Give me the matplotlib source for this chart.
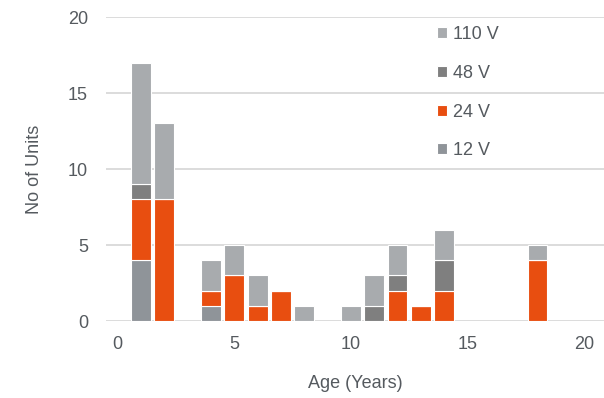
import matplotlib
matplotlib.use("Agg")
import matplotlib.pyplot as plt
import numpy as np

ages = [1, 2, 4, 5, 6, 7, 8, 10, 11, 12, 13, 14, 18]
v12 = [4, 0, 1, 0, 0, 0, 0, 0, 0, 0, 0, 0, 0]
v24 = [4, 8, 1, 3, 1, 2, 0, 0, 0, 2, 1, 2, 4]
v48 = [1, 0, 0, 0, 0, 0, 0, 0, 1, 1, 0, 2, 0]
v110 = [8, 5, 2, 2, 2, 0, 1, 1, 2, 2, 0, 2, 1]

series = [("12 V", v12, "#8f9499"), ("24 V", v24, "#e84e10"),
          ("48 V", v48, "#7f7f7f"), ("110 V", v110, "#a8abae")]

plt.rcParams['font.family'] = ['Liberation Sans', 'DejaVu Sans']
txt = "#555a5f"

fig = plt.figure(figsize=(6.04, 3.98), dpi=100)
ax = fig.add_axes([106/604, 1-321/398, (604-106)/604, (321-17)/398])

bottom = np.zeros(len(ages))
handles = {}
for name, vals, col in series:
    vals = np.array(vals, dtype=float)
    b = ax.bar(ages, vals, bottom=bottom, width=0.85, color=col,
               edgecolor="white", linewidth=0.8, zorder=3, label=name)
    handles[name] = b
    bottom += vals

ax.set_xlim(-0.5, 20.85)
ax.set_ylim(0, 20)
ax.set_xticks([0, 5, 10, 15, 20])
ax.set_yticks([0, 5, 10, 15, 20])
ax.yaxis.grid(True, color="#d9d9d9", linewidth=1.3, zorder=0)
ax.set_axisbelow(True)
for s in ax.spines.values():
    s.set_visible(False)
ax.tick_params(axis="both", length=0, labelsize=13, labelcolor=txt)
ax.tick_params(axis="y", pad=13)
ax.tick_params(axis="x", pad=11)
ax.set_xlabel("Age (Years)", fontsize=13, color=txt, labelpad=16)
ax.set_ylabel("No of Units", fontsize=13, color=txt, labelpad=18)

order = ["110 V", "48 V", "24 V", "12 V"]
leg = ax.legend([handles[n] for n in order], order, loc="upper left",
                bbox_to_anchor=(421/604, 1-10/398), bbox_transform=fig.transFigure,
                frameon=False, fontsize=13, handlelength=0.55, handleheight=0.55,
                handletextpad=0.3, labelspacing=1.2)
for t in leg.get_texts():
    t.set_color(txt)

fig.savefig("out.png", dpi=100)
